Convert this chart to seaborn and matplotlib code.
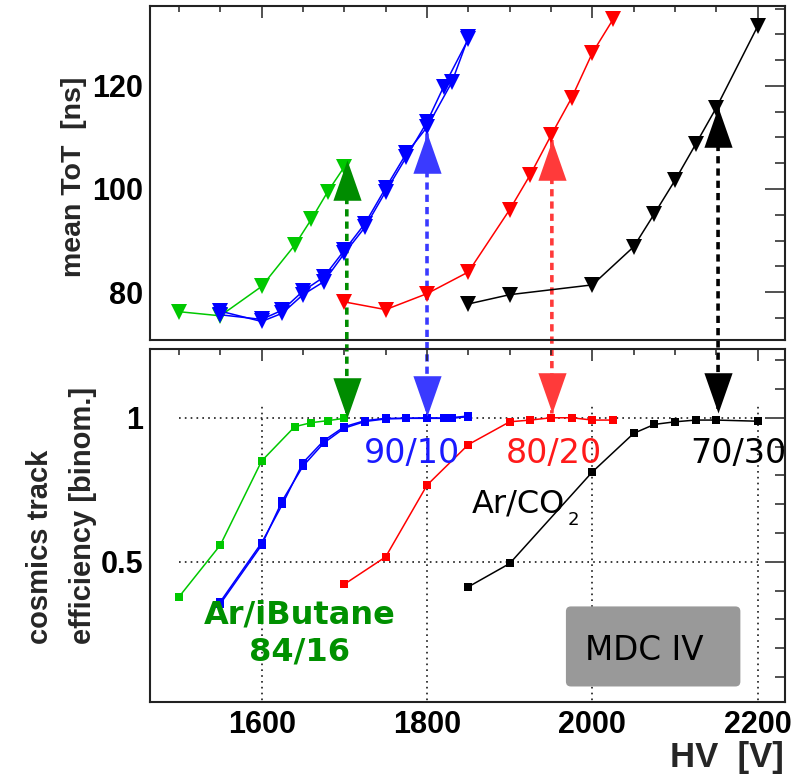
import matplotlib
matplotlib.use("Agg")
import pandas as pd
import matplotlib.pyplot as plt
import seaborn as sns
from matplotlib.patches import ConnectionPatch, FancyBboxPatch
from matplotlib.ticker import MultipleLocator, FormatStrFormatter

# ---- Ar/iButane 84/16 ----
green_hv = [1500, 1550, 1600, 1640, 1660, 1680, 1700]
green_tot = [76.2, 75.4, 81.1, 89.1, 94.1, 99.5, 104.3]
green_eff = [0.378, 0.558, 0.850, 0.969, 0.983, 0.990, 0.998]

# ---- Ar/CO2 90/10 (two runs, almost on top of each other) ----
blue_a_hv = [1550, 1600, 1625, 1650, 1675, 1700, 1725, 1750, 1775, 1800, 1820, 1850]
blue_a_tot = [76.3, 74.3, 75.9, 79.5, 82.0, 87.5, 92.6, 99.5, 106.2, 113.0, 119.8, 129.1]
blue_a_eff = [0.361, 0.566, 0.699, 0.844, 0.920, 0.969, 0.990, 0.998, 0.998, 0.998, 0.998, 1.006]
blue_b_hv = [1550, 1600, 1625, 1650, 1675, 1700, 1725, 1750, 1775, 1800, 1830, 1850]
blue_b_tot = [75.6, 74.7, 76.5, 80.2, 82.9, 88.1, 93.3, 100.2, 106.9, 112.0, 120.7, 129.4]
blue_b_eff = [0.354, 0.558, 0.712, 0.832, 0.912, 0.964, 0.987, 0.996, 0.998, 1.000, 0.998, 1.004]

# ---- Ar/CO2 80/20 ----
red_hv = [1700, 1750, 1800, 1850, 1900, 1925, 1950, 1975, 2000, 2025]
red_tot = [78.1, 76.6, 79.7, 83.9, 96.0, 102.8, 110.4, 117.7, 126.4, 132.9]
red_eff = [0.422, 0.517, 0.766, 0.907, 0.986, 0.992, 1.000, 1.000, 0.992, 0.992]

# ---- Ar/CO2 70/30 ----
black_hv = [1850, 1900, 2000, 2050, 2075, 2100, 2125, 2150, 2200]
black_tot = [77.7, 79.5, 81.4, 88.8, 95.2, 101.7, 108.7, 115.8, 131.6]
black_eff = [0.413, 0.494, 0.812, 0.946, 0.977, 0.986, 0.992, 0.992, 0.988]

# ---- working points (arrows) ----
arrow_hv = [1703, 1800, 1951, 2152]
arrow_tot = [105.6, 110.8, 109.5, 115.9]
arrow_eff = [1.000, 1.007, 1.015, 1.015]
arrow_colors = ["#008c00", "#3a3aff", "#ff3a3a", "#000000"]

series = {
    "green": (green_hv, green_tot, green_eff, "#00c800"),
    "blue_a": (blue_a_hv, blue_a_tot, blue_a_eff, "#0000ff"),
    "blue_b": (blue_b_hv, blue_b_tot, blue_b_eff, "#0000ff"),
    "red": (red_hv, red_tot, red_eff, "#ff0000"),
    "black": (black_hv, black_tot, black_eff, "#000000"),
}

rows = []
for name, (hv, tot, eff, _) in series.items():
    for v, t, e in zip(hv, tot, eff):
        rows.append({"series": name, "hv": v, "tot": t, "eff": e})
df = pd.DataFrame(rows)
palette = {name: s[3] for name, s in series.items()}

sns.set_theme(style="white")
plt.rcParams["font.family"] = ["Liberation Sans", "DejaVu Sans"]
plt.rcParams["axes.linewidth"] = 1.5
plt.rcParams["axes.edgecolor"] = "#222222"

fig = plt.figure(figsize=(8.04, 7.79), dpi=100)
ax1 = fig.add_axes([0.1866, 0.5635, 0.7898, 0.4288])
ax2 = fig.add_axes([0.1866, 0.0988, 0.7898, 0.4531])
ax2.patch.set_visible(False)

# upper: mean ToT
sns.lineplot(data=df, x="hv", y="tot", hue="series", palette=palette,
             estimator=None, sort=False, legend=False, ax=ax1,
             marker="v", markersize=11, markeredgewidth=0, linewidth=1.1)
# lower: efficiency
sns.lineplot(data=df, x="hv", y="eff", hue="series", palette=palette,
             estimator=None, sort=False, legend=False, ax=ax2,
             marker="s", markersize=5.5, markeredgewidth=0, linewidth=1.1)

# dotted grid in the lower pad
ax2.hlines([0.5, 1.0], 1500, 2200, colors="k", linestyles=(0, (1, 2.5)), lw=1.2, zorder=0.5)
ax2.vlines([1600, 1800, 2000, 2200], 0, 1.05, colors="k", linestyles=(0, (1, 2.5)), lw=1.2, zorder=0.5)

# arrows: heads as markers, dashed stem across both pads
head_up = [(0, 0), (-0.35, -1), (0.35, -1)]
head_down = [(0, 0), (-0.35, 1), (0.35, 1)]
for hv, t, e, c in zip(arrow_hv, arrow_tot, arrow_eff, arrow_colors):
    ax1.plot(hv, t, marker=head_up, ms=58, color=c, mew=0, ls="none", zorder=3)
    ax2.plot(hv, e, marker=head_down, ms=58, color=c, mew=0, ls="none", zorder=3)
    con = ConnectionPatch(xyA=(hv, t), coordsA=ax1.transData,
                          xyB=(hv, e), coordsB=ax2.transData,
                          color=c, lw=2.6, linestyle=(0, (2.0, 1.4)),
                          capstyle="butt", zorder=1.5)
    con.set_clip_on(False)
    ax1.add_artist(con)

# labels inside the lower pad
txt = dict(family="DejaVu Sans", fontweight="normal", va="baseline")
ax2.text(1782, 0.843, "90/10", color="#1a1aff", fontsize=24, ha="center", **txt)
ax2.text(1954, 0.843, "80/20", color="#ff1a1a", fontsize=24, ha="center", **txt)
ax2.text(2177, 0.843, "70/30", color="black", fontsize=24, ha="center", **txt)
ax2.text(1967, 0.672, "Ar/CO", color="black", fontsize=23, ha="right", **txt)
ax2.text(1970, 0.627, "2", color="black", fontsize=13, ha="left", **txt)
ax2.text(1646, 0.287, "Ar/iButane", color="#009000", fontsize=23, fontweight="bold",
         family="DejaVu Sans", ha="center", va="baseline")
ax2.text(1646, 0.158, "84/16", color="#009000", fontsize=23, fontweight="bold",
         family="DejaVu Sans", ha="center", va="baseline")

box = FancyBboxPatch((1968, 0.067), 211, 0.278,
                     boxstyle="round,pad=0,rounding_size=6", mutation_aspect=0.00288,
                     fc="#999999", ec="none", zorder=2)
ax2.add_patch(box)
ax2.text(2063, 0.159, "MDC IV", color="black", fontsize=23.5, ha="center", zorder=3, **txt)

# axes, ticks
for ax in (ax1, ax2):
    ax.set_xlim(1465, 2233)
    ax.xaxis.set_major_locator(MultipleLocator(200))
    ax.xaxis.set_minor_locator(MultipleLocator(50))
    ax.tick_params(which="both", direction="in", top=True, right=True,
                   width=1.1, color="#222222", labelsize=22, labelcolor="black")
    ax.tick_params(axis="y", which="major", length=14.5, pad=5)
    ax.tick_params(axis="y", which="minor", length=7.3)
    ax.tick_params(axis="x", which="major", length=8.4, pad=5.5)
    ax.tick_params(axis="x", which="minor", length=4.5)
    for sp in ax.spines.values():
        sp.set_visible(True)

ax1.set_ylim(70.7, 135.5)
ax1.yaxis.set_major_locator(MultipleLocator(20))
ax1.yaxis.set_minor_locator(MultipleLocator(5))
ax1.tick_params(labelbottom=False)
ax1.set_xlabel("")
ax1.set_ylabel("mean ToT  [ns]", fontsize=20.5, fontweight="bold")
ax1.yaxis.set_label_coords(-0.099, 0.49)

ax2.set_ylim(0.013, 1.2385)
ax2.yaxis.set_major_locator(MultipleLocator(0.5))
ax2.yaxis.set_minor_locator(MultipleLocator(0.1))
ax2.yaxis.set_major_formatter(FormatStrFormatter("%g"))
ax2.set_ylabel("cosmics track\nefficiency [binom.]", fontsize=21, fontweight="bold",
               multialignment="left", linespacing=1.7)
ax2.yaxis.set_label_coords(-0.083, 0.53)
ax2.set_xlabel("HV  [V]", fontsize=25, fontweight="bold", ha="right")
ax2.xaxis.set_label_coords(0.998, -0.11)

for ax in (ax1, ax2):
    for lbl in ax.get_xticklabels() + ax.get_yticklabels():
        lbl.set_fontweight("bold")

fig.savefig("out.png", dpi=100)
